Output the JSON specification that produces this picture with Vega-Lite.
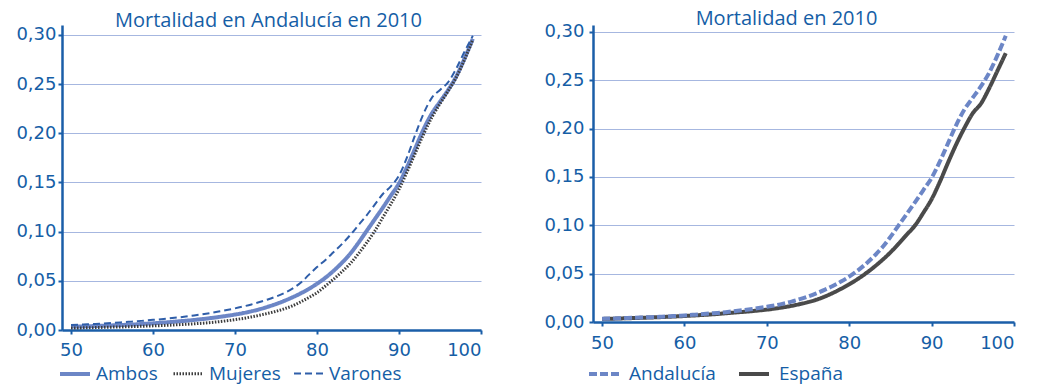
{
  "$schema": "https://vega.github.io/schema/vega-lite/v6.json",
  "background": "white",
  "padding": {"left": 15, "top": 8, "right": 5, "bottom": 3},
  "spacing": 61,
  "datasets": {
    "mortalidad": [
      {"edad": 50, "Ambos": 0.0034, "Mujeres": 0.0020, "Varones": 0.0050, "España": 0.0032},
      {"edad": 51, "Ambos": 0.0036, "Mujeres": 0.0021, "Varones": 0.0054, "España": 0.0034},
      {"edad": 52, "Ambos": 0.0038, "Mujeres": 0.0023, "Varones": 0.0058, "España": 0.0036},
      {"edad": 53, "Ambos": 0.0041, "Mujeres": 0.0025, "Varones": 0.0062, "España": 0.0039},
      {"edad": 54, "Ambos": 0.0044, "Mujeres": 0.0027, "Varones": 0.0067, "España": 0.0041},
      {"edad": 55, "Ambos": 0.0047, "Mujeres": 0.0029, "Varones": 0.0072, "España": 0.0044},
      {"edad": 56, "Ambos": 0.0050, "Mujeres": 0.0031, "Varones": 0.0077, "España": 0.0047},
      {"edad": 57, "Ambos": 0.0054, "Mujeres": 0.0033, "Varones": 0.0083, "España": 0.0050},
      {"edad": 58, "Ambos": 0.0058, "Mujeres": 0.0036, "Varones": 0.0089, "España": 0.0054},
      {"edad": 59, "Ambos": 0.0063, "Mujeres": 0.0039, "Varones": 0.0096, "España": 0.0058},
      {"edad": 60, "Ambos": 0.0068, "Mujeres": 0.0042, "Varones": 0.0103, "España": 0.0062},
      {"edad": 61, "Ambos": 0.0074, "Mujeres": 0.0045, "Varones": 0.0110, "España": 0.0067},
      {"edad": 62, "Ambos": 0.0080, "Mujeres": 0.0049, "Varones": 0.0118, "España": 0.0072},
      {"edad": 63, "Ambos": 0.0087, "Mujeres": 0.0053, "Varones": 0.0127, "España": 0.0077},
      {"edad": 64, "Ambos": 0.0094, "Mujeres": 0.0058, "Varones": 0.0137, "España": 0.0083},
      {"edad": 65, "Ambos": 0.0102, "Mujeres": 0.0063, "Varones": 0.0148, "España": 0.0090},
      {"edad": 66, "Ambos": 0.0111, "Mujeres": 0.0069, "Varones": 0.0160, "España": 0.0097},
      {"edad": 67, "Ambos": 0.0121, "Mujeres": 0.0076, "Varones": 0.0173, "España": 0.0104},
      {"edad": 68, "Ambos": 0.0132, "Mujeres": 0.0084, "Varones": 0.0187, "España": 0.0111},
      {"edad": 69, "Ambos": 0.0144, "Mujeres": 0.0094, "Varones": 0.0203, "España": 0.0119},
      {"edad": 70, "Ambos": 0.0157, "Mujeres": 0.0105, "Varones": 0.0220, "España": 0.0128},
      {"edad": 71, "Ambos": 0.0172, "Mujeres": 0.0118, "Varones": 0.0239, "España": 0.0139},
      {"edad": 72, "Ambos": 0.0190, "Mujeres": 0.0133, "Varones": 0.0260, "España": 0.0152},
      {"edad": 73, "Ambos": 0.0211, "Mujeres": 0.0150, "Varones": 0.0284, "España": 0.0167},
      {"edad": 74, "Ambos": 0.0236, "Mujeres": 0.0169, "Varones": 0.0310, "España": 0.0185},
      {"edad": 75, "Ambos": 0.0264, "Mujeres": 0.0190, "Varones": 0.0340, "España": 0.0205},
      {"edad": 76, "Ambos": 0.0296, "Mujeres": 0.0215, "Varones": 0.0375, "España": 0.0230},
      {"edad": 77, "Ambos": 0.0332, "Mujeres": 0.0245, "Varones": 0.0420, "España": 0.0262},
      {"edad": 78, "Ambos": 0.0372, "Mujeres": 0.0285, "Varones": 0.0480, "España": 0.0300},
      {"edad": 79, "Ambos": 0.0418, "Mujeres": 0.0330, "Varones": 0.0560, "España": 0.0343},
      {"edad": 80, "Ambos": 0.0470, "Mujeres": 0.0380, "Varones": 0.0640, "España": 0.0390},
      {"edad": 81, "Ambos": 0.0530, "Mujeres": 0.0445, "Varones": 0.0710, "España": 0.0443},
      {"edad": 82, "Ambos": 0.0600, "Mujeres": 0.0515, "Varones": 0.0790, "España": 0.0502},
      {"edad": 83, "Ambos": 0.0680, "Mujeres": 0.0590, "Varones": 0.0870, "España": 0.0568},
      {"edad": 84, "Ambos": 0.0770, "Mujeres": 0.0670, "Varones": 0.0960, "España": 0.0640},
      {"edad": 85, "Ambos": 0.0880, "Mujeres": 0.0770, "Varones": 0.1060, "España": 0.0720},
      {"edad": 86, "Ambos": 0.1000, "Mujeres": 0.0880, "Varones": 0.1160, "España": 0.0810},
      {"edad": 87, "Ambos": 0.1120, "Mujeres": 0.1000, "Varones": 0.1270, "España": 0.0905},
      {"edad": 88, "Ambos": 0.1240, "Mujeres": 0.1140, "Varones": 0.1380, "España": 0.1000},
      {"edad": 89, "Ambos": 0.1365, "Mujeres": 0.1280, "Varones": 0.1460, "España": 0.1130},
      {"edad": 90, "Ambos": 0.1490, "Mujeres": 0.1430, "Varones": 0.1570, "España": 0.1270},
      {"edad": 91, "Ambos": 0.1660, "Mujeres": 0.1610, "Varones": 0.1760, "España": 0.1450},
      {"edad": 92, "Ambos": 0.1850, "Mujeres": 0.1800, "Varones": 0.1990, "España": 0.1650},
      {"edad": 93, "Ambos": 0.2040, "Mujeres": 0.1990, "Varones": 0.2200, "España": 0.1840},
      {"edad": 94, "Ambos": 0.2200, "Mujeres": 0.2160, "Varones": 0.2360, "España": 0.2010},
      {"edad": 95, "Ambos": 0.2320, "Mujeres": 0.2300, "Varones": 0.2440, "España": 0.2160},
      {"edad": 96, "Ambos": 0.2440, "Mujeres": 0.2430, "Varones": 0.2520, "España": 0.2260},
      {"edad": 97, "Ambos": 0.2580, "Mujeres": 0.2570, "Varones": 0.2660, "España": 0.2420},
      {"edad": 98, "Ambos": 0.2760, "Mujeres": 0.2750, "Varones": 0.2830, "España": 0.2600},
      {"edad": 99, "Ambos": 0.2960, "Mujeres": 0.2950, "Varones": 0.2990, "España": 0.2780}
    ]
  },
  "config": {
    "font": "Open Sans",
    "view": {"stroke": null},
    "title": {"fontSize": 20, "fontWeight": "normal", "color": "#155ea6", "anchor": "middle", "offset": -1, "dy": 5},
    "axis": {
      "domainColor": "#1a5ea8",
      "domainWidth": 2.5,
      "tickColor": "#1a5ea8",
      "tickWidth": 2,
      "tickSize": 4,
      "labelColor": "#155ea6",
      "labelFontSize": 18,
      "labelFont": "DejaVu Sans",
      "gridColor": "#a6b7e0",
      "gridWidth": 1,
      "title": null
    },
    "legend": {
      "labelColor": "#155ea6",
      "labelFontSize": 19,
      "labelFont": "Open Sans",
      "symbolType": "stroke",
      "symbolSize": 900,
      "direction": "horizontal",
      "orient": "none",
      "labelOffset": 4
    }
  },
  "hconcat": [
    {
      "width": 419,
      "height": 305,
      "title": {"text": "Mortalidad en Andalucía en 2010", "dx": -3},
      "data": {"name": "mortalidad"},
      "transform": [{"fold": ["Ambos", "Mujeres", "Varones"], "as": ["serie", "tasa"]}],
      "mark": {"type": "line", "interpolate": "monotone", "strokeCap": "butt"},
      "encoding": {
        "x": {
          "field": "edad", "type": "quantitative",
          "scale": {"domain": [48.9, 100], "nice": false, "zero": false},
          "axis": {"values": [50, 60, 70, 80, 90, 100], "grid": false, "labelPadding": 7}
        },
        "y": {
          "field": "tasa", "type": "quantitative",
          "scale": {"domain": [0, 0.31], "nice": false},
          "axis": {"values": [0, 0.05, 0.1, 0.15, 0.2, 0.25, 0.3], "labelExpr": "replace(format(datum.value, '.2f'), '.', ',')", "labelPadding": 2}
        },
        "color": {
          "field": "serie", "type": "nominal", "title": null,
          "scale": {"domain": ["Ambos", "Mujeres", "Varones"], "range": ["#6c86c6", "#3c3c3c", "#2f5ea9"]},
          "legend": {"legendX": -4, "legendY": 332, "columnPadding": 9}
        },
        "strokeDash": {
          "field": "serie", "type": "nominal", "title": null,
          "scale": {"domain": ["Ambos", "Mujeres", "Varones"], "range": [[1, 0], [1.5, 1.5], [7, 4]]}
        },
        "strokeWidth": {
          "field": "serie", "type": "ordinal", "title": null,
          "scale": {"domain": ["Ambos", "Mujeres", "Varones"], "range": [4, 2, 2]}
        },
        "order": {"field": "edad", "type": "quantitative"}
      }
    },
    {
      "width": 421,
      "height": 297,
      "title": {"text": "Mortalidad en 2010", "dx": -17},
      "data": {"name": "mortalidad"},
      "transform": [{"fold": ["España", "Ambos"], "as": ["serie", "tasa"]}],
      "mark": {"type": "line", "interpolate": "monotone", "strokeCap": "butt"},
      "encoding": {
        "x": {
          "field": "edad", "type": "quantitative",
          "scale": {"domain": [48.9, 100], "nice": false, "zero": false},
          "axis": {"values": [50, 60, 70, 80, 90, 100], "grid": false, "labelPadding": 8}
        },
        "y": {
          "field": "tasa", "type": "quantitative",
          "scale": {"domain": [0, 0.3072], "nice": false},
          "axis": {"values": [0, 0.05, 0.1, 0.15, 0.2, 0.25, 0.3], "labelExpr": "replace(format(datum.value, '.2f'), '.', ',')", "labelPadding": 5}
        },
        "color": {
          "field": "serie", "type": "nominal", "title": null,
          "scale": {"domain": ["Ambos", "España"], "range": ["#6c86c6", "#4a4a4a"]},
          "legend": {"legendX": -6, "legendY": 332, "columnPadding": 15, "labelOffset": 8, "labelExpr": "datum.label == 'Ambos' ? 'Andalucía' : datum.label"}
        },
        "strokeDash": {
          "field": "serie", "type": "nominal", "title": null,
          "scale": {"domain": ["Ambos", "España"], "range": [[8, 3], [1, 0]]}
        },
        "strokeWidth": {
          "field": "serie", "type": "ordinal", "title": null,
          "scale": {"domain": ["Ambos", "España"], "range": [4, 4]}
        },
        "order": {"field": "edad", "type": "quantitative"}
      }
    }
  ],
  "resolve": {
    "scale": {"color": "independent", "strokeDash": "independent", "strokeWidth": "independent"},
    "legend": {"color": "independent", "strokeDash": "independent", "strokeWidth": "independent"}
  }
}
